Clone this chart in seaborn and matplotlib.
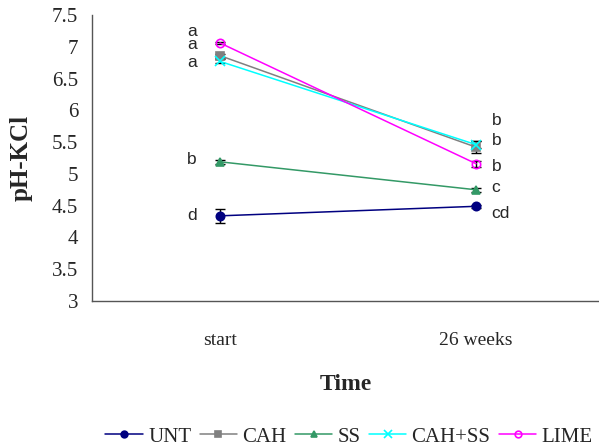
import matplotlib
matplotlib.use("Agg")
import matplotlib.pyplot as plt
import seaborn as sns
import pandas as pd
import numpy as np

sns.set_style("white")
plt.rcParams['font.family'] = ['Liberation Serif', 'DejaVu Serif']

times = ["start", "26 weeks"]
series = ["UNT", "CAH", "SS", "CAH+SS", "LIME"]
unt = [4.34, 4.49]
cah = [6.86, 5.42]
ss = [5.19, 4.75]
cah_ss = [6.77, 5.46]
lime = [7.06, 5.16]
unt_err = [0.11, 0.02]
cah_err = [0.03, 0.09]
ss_err = [0.03, 0.03]
cah_ss_err = [0.03, 0.05]
lime_err = [0.02, 0.05]
letters_start = ["d", "a", "b", "a", "a"]
letters_end = ["cd", "b", "c", "b", "b"]

values = [unt, cah, ss, cah_ss, lime]
errs = [unt_err, cah_err, ss_err, cah_ss_err, lime_err]
colors = ["#000080", "#808080", "#339966", "#00FFFF", "#FF00FF"]
markers = ["o", "s", "^", "x", "o"]
mfc = ["#000080", "#808080", "#339966", "#00FFFF", "none"]

rows = []
for s, v in zip(series, values):
    for i, t in enumerate(times):
        rows.append({"series": s, "pos": i, "time": t, "pH": v[i]})
df = pd.DataFrame(rows)

fig = plt.figure(figsize=(5.99, 4.48), dpi=100)
ax = fig.add_axes([92/599, 1-301/448, 1-92/599, (301-15)/448])

for s, v, e, c, m, fc in zip(series, values, errs, colors, markers, mfc):
    sub = df[df.series == s]
    ax.errorbar(sub.pos, sub.pH, yerr=e, fmt="none", ecolor="black",
                elinewidth=1, capsize=3.5, capthick=1, zorder=2)
    sns.lineplot(data=sub, x="pos", y="pH", ax=ax, color=c, marker=m,
                 markersize=6 if m != "x" else 7, markerfacecolor=fc,
                 markeredgecolor=c, markeredgewidth=1.2, linewidth=1.1,
                 label=s, zorder=3)

# significance letters
start_y = [4.34, 7.24, 5.22, 6.76, 7.03]
end_y = [4.38, 5.84, 4.79, 5.52, 5.11]
for txt, y in zip(letters_start, start_y):
    ax.text(-0.09, y, txt, ha="right", va="center", fontsize=12.5,
            family=["Liberation Sans", "DejaVu Sans"])
for txt, y in zip(letters_end, end_y):
    ax.text(1.06, y, txt, ha="left", va="center", fontsize=12.5,
            family=["Liberation Sans", "DejaVu Sans"])

ax.set_xlim(-0.5, 1.48)
ax.set_ylim(3, 7.5)
ax.set_yticks(np.arange(3, 7.51, 0.5))
ax.set_yticklabels([f"{v:g}" for v in np.arange(3, 7.51, 0.5)], fontsize=15)
ax.set_xticks([0, 1])
ax.set_xticklabels(times, fontsize=14)
ax.set_xticks([-0.5, 0.5], minor=True)
ax.tick_params(axis="x", which="major", length=0, pad=22)
ax.tick_params(axis="x", which="minor", length=5, direction="out", color="#555555")
ax.tick_params(axis="y", length=5, direction="out", color="#555555", pad=5)
for sp in ["top", "right"]:
    ax.spines[sp].set_visible(False)
for sp in ["left", "bottom"]:
    ax.spines[sp].set_color("#555555")
    ax.spines[sp].set_linewidth(1)

ax.set_xlabel("Time", fontsize=17, fontweight="bold", labelpad=18)
ax.set_ylabel("pH-KCl", fontsize=18, fontweight="bold", labelpad=14)

leg = ax.legend(loc="center", bbox_to_anchor=(0.507, -0.475), ncol=5, frameon=False,
                fontsize=15, handlelength=1.8, handletextpad=0.25, columnspacing=0.4,
                markerscale=0.8)

fig.savefig("out.png", dpi=100)
